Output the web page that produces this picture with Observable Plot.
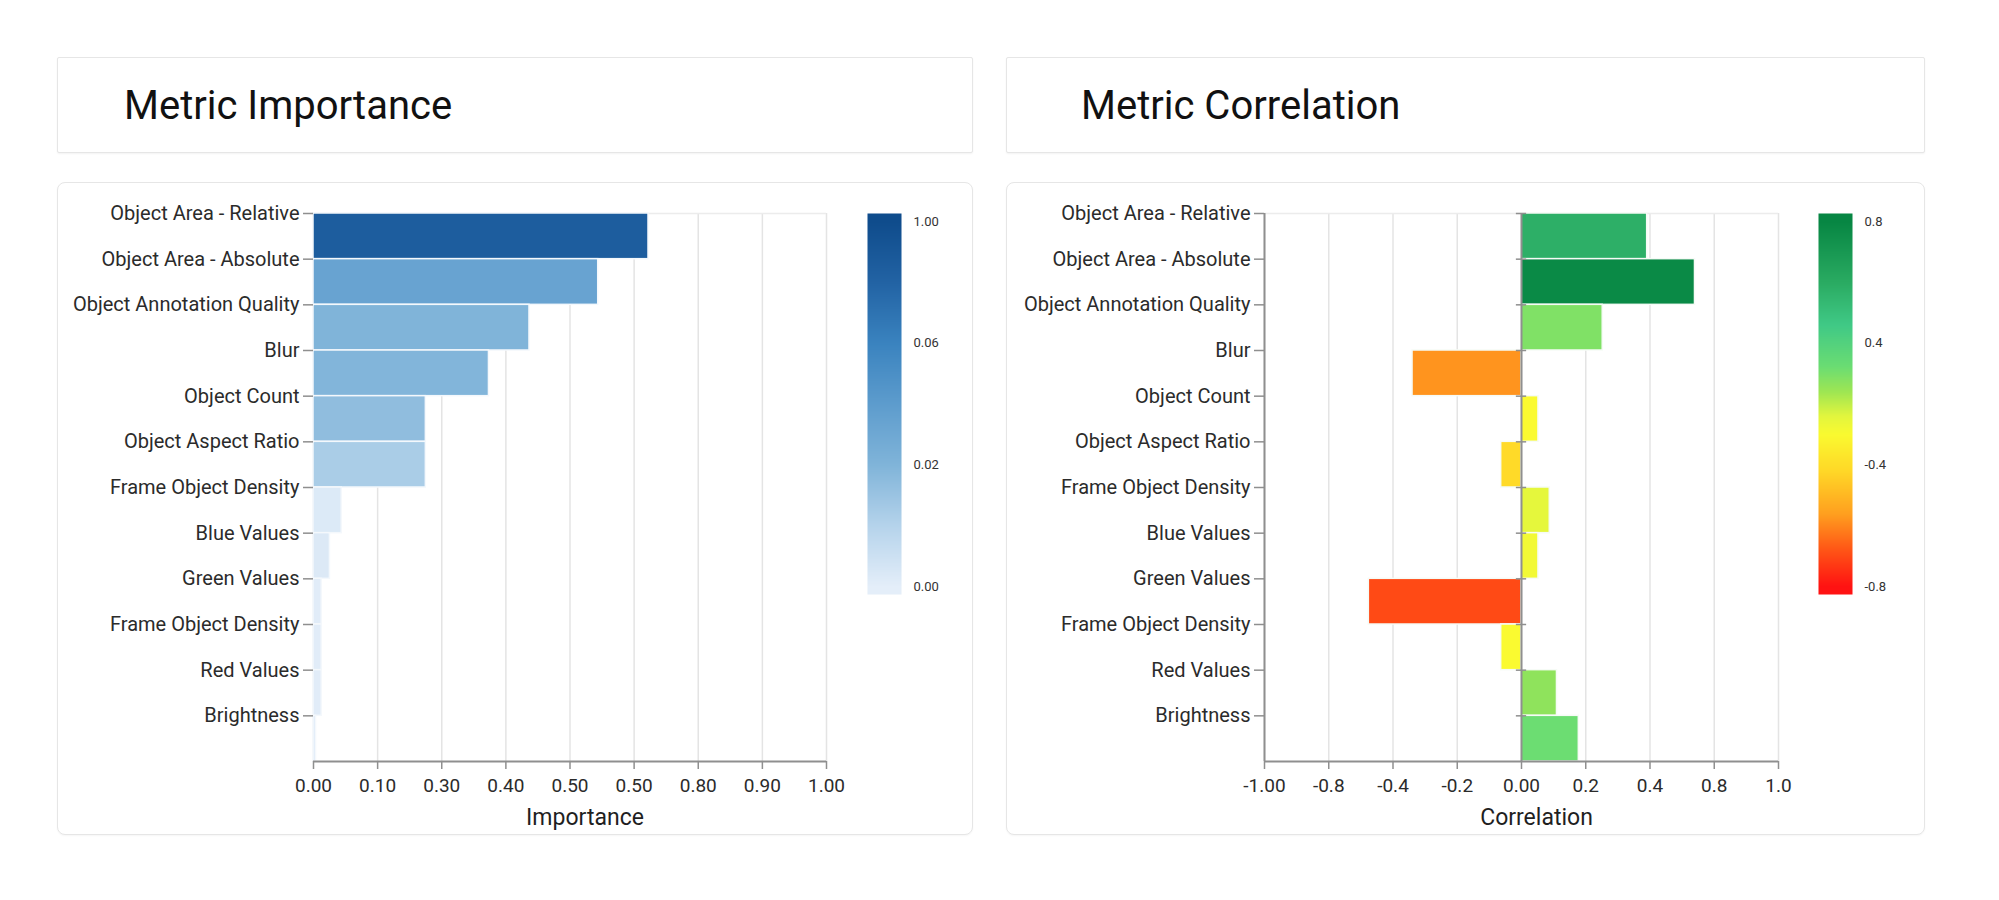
<!DOCTYPE html>
<html>
<head>
<meta charset="utf-8">
<script src="https://cdn.jsdelivr.net/npm/d3@7"></script>
<script src="https://cdn.jsdelivr.net/npm/@observablehq/plot@0.6"></script>
<style>
  html, body { margin: 0; padding: 0; background: #fff; }
  body { width: 1999px; height: 900px; position: relative; overflow: hidden; font-family: Roboto, "Liberation Sans", sans-serif; }
  .box { position: absolute; box-sizing: border-box; border: 1px solid #e6e6e6; background: #fff; }
  .titlebox { box-shadow: 0 1px 2px rgba(0,0,0,0.05); border-radius: 2px; }
  .chartbox { border-radius: 8px; box-shadow: 0 1px 2px rgba(0,0,0,0.04); }
  .title { position: absolute; font-size: 40px; color: #111; line-height: 1; white-space: nowrap; }
  .holder { position: absolute; }
  .holder svg { overflow: visible; }
</style>
</head>
<body>
<div class="box titlebox" style="left:57px;top:57px;width:916px;height:96px"></div>
<div class="title" style="left:124px;top:86px">Metric Importance</div>
<div class="box titlebox" style="left:1006px;top:57px;width:919px;height:96px"></div>
<div class="title" style="left:1081px;top:86px">Metric Correlation</div>

<div class="box chartbox" style="left:57px;top:182px;width:916px;height:653px"></div>
<div class="box chartbox" style="left:1006px;top:182px;width:919px;height:653px"></div>

<div class="holder" id="imp" style="left:57px;top:182px"></div>
<div class="holder" id="impLegend" style="left:867px;top:213px"></div>
<div class="holder" id="cor" style="left:1006px;top:182px"></div>
<div class="holder" id="corLegend" style="left:1818px;top:213px"></div>

<script>
// ---------- data ----------
const metrics = [
  "Object Area - Relative", "Object Area - Absolute", "Object Annotation Quality", "Blur",
  "Object Count", "Object Aspect Ratio", "Frame Object Density", "Blue Values",
  "Green Values", "Frame Object Density", "Red Values", "Brightness"
];
// bar length (fraction of the axis span)
const importance = [0.653, 0.555, 0.421, 0.342, 0.219, 0.219, 0.055, 0.032, 0.016, 0.016, 0.016, 0.005];
// shade of each bar, in legend steps (0 = "0.00" ... 3 = "1.00")
const importanceShade = [2.62, 1.35, 1.0, 0.98, 0.85, 0.6, 0.08, 0.09, 0.03, 0.03, 0.03, 0.03];
// bar length
const correlation = [0.489, 0.675, 0.316, -0.424, 0.066, -0.079, 0.110, 0.066, -0.594, -0.079, 0.138, 0.223];
// shade of each bar, in legend steps (0 = "-0.8" ... 3 = "0.8")
const correlationShade = [2.45, 2.95, 1.72, 0.55, 1.25, 0.97, 1.38, 1.3, 0.25, 1.25, 1.66, 1.8];

const importanceTicks = [0, 0.125, 0.25, 0.375, 0.5, 0.625, 0.75, 0.875, 1];
const importanceTickLabels = ["0.00", "0.10", "0.30", "0.40", "0.50", "0.50", "0.80", "0.90", "1.00"];
const correlationTicks = [-1, -0.75, -0.5, -0.25, 0, 0.25, 0.5, 0.75, 1];
const correlationTickLabels = ["-1.00", "-0.8", "-0.4", "-0.2", "0.00", "0.2", "0.4", "0.8", "1.0"];
const legendSteps = [0, 1, 2, 3];
const importanceLegendLabels = ["0.00", "0.02", "0.06", "1.00"];
const correlationLegendLabels = ["-0.8", "-0.4", "0.4", "0.8"];

// ---------- colour scales ----------
const blues = {
  type: "linear",
  domain: [0, 0.5, 1, 1.5, 2, 2.5, 3],
  range: ["#e4eef9", "#b5d3eb", "#80b4d9", "#5d9ccd", "#3a83bf", "#2263a4", "#0f4c8c"],
  clamp: true
};
const ryg = {
  type: "linear",
  domain: [0, 0.3, 0.6, 0.95, 1.25, 1.4, 1.6, 1.8, 2.15, 2.5, 3],
  range: ["#ff1212", "#ff5516", "#ffa01f", "#ffd827", "#fafa30", "#e2f63e", "#9ee653", "#6cdd72", "#40c986", "#2aab62", "#078643"],
  clamp: true
};

const rowsImp = metrics.map((name, i) => ({i, name, value: importance[i], shade: importanceShade[i]}));
const rowsCor = metrics.map((name, i) => ({i, name, value: correlation[i], shade: correlationShade[i]}));
const idx = metrics.map((_, i) => i);

const font = {fontFamily: "Roboto, 'Liberation Sans', sans-serif", fontSize: "22px", background: "transparent", color: "#2b2b2b", overflow: "visible"};

function yAxis() {
  return Plot.axisY({
    ticks: idx, tickFormat: i => metrics[i], tickSize: 10, tickPadding: 4,
    stroke: "#8f8f8f", fill: "#2b2b2b", fontSize: 20, strokeWidth: 1.5, label: null
  });
}
function xAxis(ticks, labels) {
  return Plot.axisX({
    ticks, tickFormat: d => labels[ticks.indexOf(d)], tickSize: 8, tickPadding: 9,
    stroke: "#8f8f8f", fill: "#2b2b2b", fontSize: 19, strokeWidth: 1.5, label: null
  });
}
function xTitle(title) {
  return Plot.text([title], {frameAnchor: "bottom", dx: 15, dy: 56, lineAnchor: "middle", fontSize: 23, fill: "#1f1f1f"});
}

// ---------- importance chart ----------
const imp = Plot.plot({
  width: 916, height: 653,
  marginLeft: 256, marginRight: 147, marginTop: 31, marginBottom: 74,
  style: font,
  x: {domain: [0, 1]},
  y: {domain: [0, 12], reverse: true},
  color: blues,
  marks: [
    Plot.gridX({ticks: importanceTicks, stroke: "#e4e4e4", strokeOpacity: 1, strokeWidth: 1.5}),
    Plot.ruleY([0], {stroke: "#ececec", strokeWidth: 1.5}),
    Plot.rect(rowsImp, {x1: 0, x2: "value", y1: "i", y2: d => d.i + 1, fill: "shade", stroke: "#f4f8fc", strokeWidth: 1.5}),
    Plot.ruleY([12], {stroke: "#8f8f8f", strokeWidth: 2}),
    yAxis(),
    xAxis(importanceTicks, importanceTickLabels),
    xTitle("Importance")
  ]
});
document.getElementById("imp").append(imp);

// ---------- correlation chart ----------
const cor = Plot.plot({
  width: 919, height: 653,
  marginLeft: 258, marginRight: 147, marginTop: 31, marginBottom: 74,
  style: font,
  x: {domain: [-1, 1]},
  y: {domain: [0, 12], reverse: true},
  color: ryg,
  marks: [
    Plot.gridX({ticks: correlationTicks, stroke: "#e4e4e4", strokeOpacity: 1, strokeWidth: 1.5}),
    Plot.ruleY([0], {stroke: "#ececec", strokeWidth: 1.5}),
    Plot.rect(rowsCor, {x1: 0, x2: "value", y1: "i", y2: d => d.i + 1, fill: "shade", stroke: "#f6fbf6", strokeWidth: 1.5}),
    Plot.ruleX([-1], {stroke: "#8f8f8f", strokeWidth: 2}),
    Plot.ruleX([0], {stroke: "#8f8f8f", strokeWidth: 2}),
    Plot.ruleY(idx, {y: d => d, x1: -0.02, x2: 0.02, stroke: "#8f8f8f", strokeWidth: 1.5}),
    Plot.ruleY([12], {stroke: "#8f8f8f", strokeWidth: 2}),
    yAxis(),
    xAxis(correlationTicks, correlationTickLabels),
    xTitle("Correlation")
  ]
});
document.getElementById("cor").append(cor);

// ---------- legends ----------
function legend(colorScale, labels) {
  return Plot.plot({
    width: 80, height: 381,
    marginLeft: 0, marginRight: 46, marginTop: 0, marginBottom: 0,
    style: {...font, fontSize: "13px"},
    x: {domain: [0, 1], axis: null},
    y: {domain: [-0.066, 3.066]},
    color: colorScale,
    marks: [
      Plot.raster({x1: 0, x2: 1, y1: -0.066, y2: 3.066, width: 1, height: 381, fill: (x, y) => y, imageRendering: "auto"}),
      Plot.axisY({anchor: "right", ticks: legendSteps, tickFormat: d => labels[d], tickSize: 0, tickPadding: 12, fontSize: 13, fill: "#333", label: null})
    ]
  });
}
document.getElementById("impLegend").append(legend(blues, importanceLegendLabels));
document.getElementById("corLegend").append(legend(ryg, correlationLegendLabels));
</script>
</body>
</html>
